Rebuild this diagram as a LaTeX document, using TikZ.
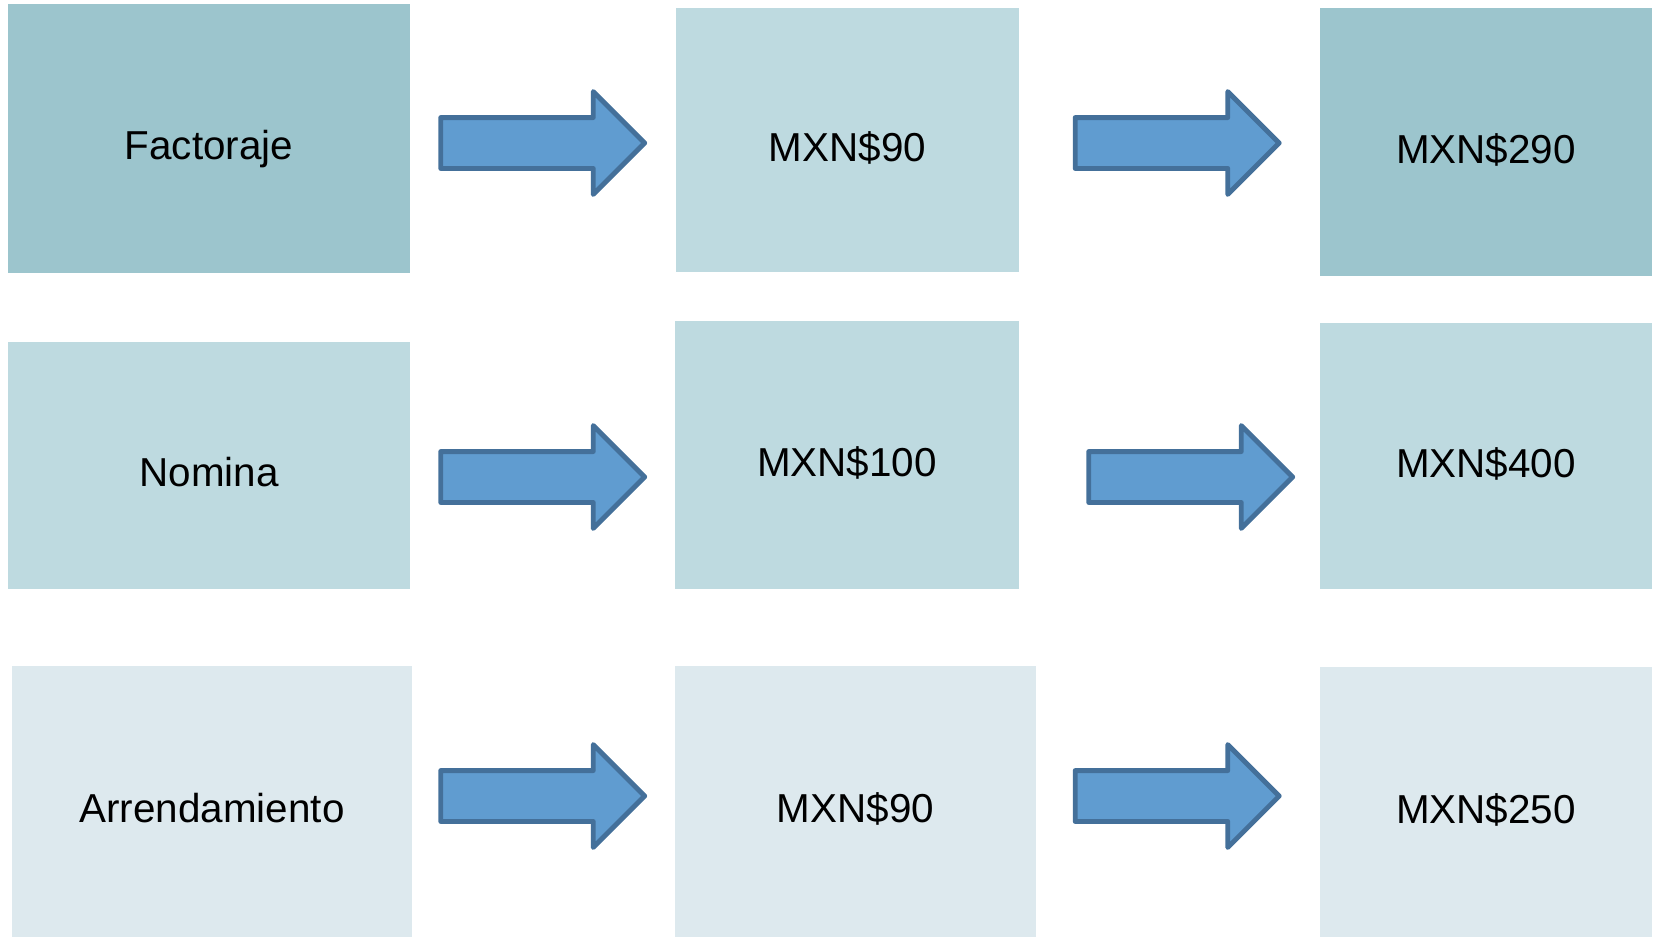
\documentclass[tikz,border=0pt]{standalone}
\usepackage{fontspec}
\setmainfont{Liberation Sans}
\usepackage{tikz}
\usetikzlibrary{positioning,shapes.arrows}
\definecolor{cdark}{RGB}{156,197,205}
\definecolor{cmid}{RGB}{190,218,224}
\definecolor{clight}{RGB}{221,233,238}
\definecolor{carrow}{RGB}{96,156,208}
\definecolor{cedge}{RGB}{68,112,154}

\begin{document}
\begin{tikzpicture}[x=0.02cm,y=-0.02cm,font=\fontsize{23}{27}\selectfont,
  box/.style={inner sep=0pt,minimum width=#1,text height=24pt,text depth=0pt},
  dark/.style={fill=cdark},
  mid/.style={fill=cmid},
  light/.style={fill=clight},
  flow/.style={single arrow,draw=cedge,fill=carrow,line width=2.8pt,line join=round,
    single arrow tip angle=90,single arrow head extend=0.52cm,
    inner xsep=0pt,inner ysep=0.46cm,minimum height=4.08cm},
]
\useasboundingbox (0,0) rectangle (1654,937);
% first row
\node[box=8.04cm,dark,minimum height=5.38cm] (fac) at (209,138.5) {Factoraje};
\node[box=6.86cm,mid,minimum height=5.28cm] (fac90) at (847.5,140) {MXN\$90};
\node[box=6.64cm,dark,minimum height=5.36cm] (fac290) at (1486,142) {MXN\$290};
% second row
\node[box=8.04cm,mid,minimum height=4.94cm] (nom) at (209,465.5) {Nomina};
\node[box=6.88cm,mid,minimum height=5.36cm] (nom100) at (847,455) {MXN\$100};
\node[box=6.64cm,mid,minimum height=5.32cm] (nom400) at (1486,456) {MXN\$400};
% third row
\node[box=8.0cm,light,minimum height=5.42cm] (arr) at (212,801.5) {Arrendamiento};
\node[box=7.22cm,light,minimum height=5.42cm] (arr90) at (855.5,801.5) {MXN\$90};
\node[box=6.64cm,light,minimum height=5.40cm] (arr250) at (1486,802) {MXN\$250};
% arrows
\node[flow] (facA) at (530,143) {};
\node[flow] (facB) at (1164.5,143) {};
\node[flow] (nomA) at (530,477) {};
\node[flow] (nomB) at (1178,477) {};
\node[flow] (arrA) at (530,796) {};
\node[flow] (arrB) at (1164.5,796) {};
\end{tikzpicture}
\end{document}
